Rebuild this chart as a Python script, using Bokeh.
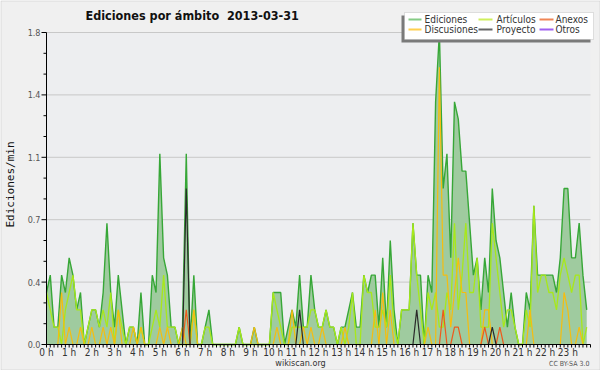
import math
from bokeh.plotting import figure
from bokeh.models import Label, BoxAnnotation, Range1d
from bokeh.embed import file_html
from bokeh.resources import INLINE
from bokeh.core.properties import value

# ---- data (edits per minute, 10-minute buckets, 2013-03-31) ----
ediciones = [0.3, 0.4, 0.1, 0.1, 0.4, 0.3, 0.5, 0.4, 0.2, 0.3, 0.0, 0.1,
             0.2, 0.2, 0.1, 0.3, 0.7, 0.3, 0.1, 0.4, 0.2, 0.0, 0.1, 0.1,
             0.0, 0.3, 0.0, 0.0, 0.4, 0.3, 1.1, 0.5, 0.4, 0.1, 0.1, 0.0,
             0.1, 1.1, 0.0, 0.4, 0.0, 0.0, 0.1, 0.2, 0.0, 0.0, 0.0, 0.0,
             0.0, 0.0, 0.0, 0.1, 0.0, 0.0, 0.0, 0.1, 0.0, 0.0, 0.0, 0.0,
             0.3, 0.3, 0.3, 0.0, 0.1, 0.2, 0.1, 0.4, 0.1, 0.1, 0.4, 0.2,
             0.1, 0.1, 0.2, 0.1, 0.1, 0.0, 0.1, 0.1, 0.2, 0.3, 0.1, 0.1,
             0.4, 0.3, 0.4, 0.4, 0.1, 0.5, 0.1, 0.6, 0.2, 0.0, 0.2, 0.2,
             0.2, 0.7, 0.4, 0.4, 0.0, 0.4, 0.3, 1.4, 1.8, 0.9, 1.1, 0.5,
             1.4, 1.3, 1.0, 1.0, 0.7, 0.4, 0.5, 0.2, 0.5, 0.3, 0.9, 0.6,
             0.5, 0.3, 0.1, 0.3, 0.1, 0.0, 0.0, 0.3, 0.2, 0.8, 0.4, 0.4,
             0.4, 0.4, 0.4, 0.3, 0.5, 0.9, 0.9, 0.5, 0.5, 0.7, 0.4, 0.2]

articulos = [0.3, 0.2, 0.1, 0.1, 0.0, 0.2, 0.3, 0.4, 0.2, 0.2, 0.0, 0.1,
             0.2, 0.2, 0.1, 0.2, 0.1, 0.3, 0.0, 0.2, 0.1, 0.0, 0.1, 0.1,
             0.0, 0.1, 0.0, 0.0, 0.1, 0.2, 0.1, 0.4, 0.1, 0.1, 0.1, 0.0,
             0.0, 0.0, 0.0, 0.2, 0.0, 0.0, 0.1, 0.1, 0.0, 0.0, 0.0, 0.0,
             0.0, 0.0, 0.0, 0.1, 0.0, 0.0, 0.0, 0.0, 0.0, 0.0, 0.0, 0.0,
             0.3, 0.2, 0.1, 0.0, 0.0, 0.1, 0.1, 0.1, 0.1, 0.1, 0.2, 0.2,
             0.1, 0.1, 0.2, 0.1, 0.1, 0.0, 0.1, 0.0, 0.1, 0.3, 0.0, 0.0,
             0.4, 0.3, 0.3, 0.1, 0.1, 0.2, 0.1, 0.4, 0.1, 0.0, 0.2, 0.2,
             0.2, 0.7, 0.4, 0.2, 0.0, 0.3, 0.2, 0.3, 0.1, 0.1, 0.3, 0.2,
             0.7, 0.2, 0.4, 0.7, 0.3, 0.3, 0.5, 0.1, 0.1, 0.1, 0.7, 0.5,
             0.3, 0.1, 0.2, 0.2, 0.1, 0.0, 0.0, 0.2, 0.1, 0.8, 0.3, 0.4,
             0.4, 0.3, 0.3, 0.2, 0.4, 0.5, 0.4, 0.3, 0.4, 0.4, 0.0, 0.1]

discusiones = [0.0, 0.0, 0.0, 0.0, 0.3, 0.0, 0.1, 0.0, 0.0, 0.1, 0.0, 0.0,
               0.1, 0.0, 0.0, 0.1, 0.0, 0.1, 0.0, 0.2, 0.0, 0.0, 0.0, 0.1,
               0.0, 0.1, 0.0, 0.0, 0.0, 0.0, 0.1, 0.0, 0.1, 0.0, 0.0, 0.0,
               0.1, 0.0, 0.0, 0.2, 0.0, 0.0, 0.0, 0.0, 0.0, 0.0, 0.0, 0.0,
               0.0, 0.0, 0.0, 0.0, 0.0, 0.0, 0.0, 0.1, 0.0, 0.0, 0.0, 0.0,
               0.0, 0.1, 0.0, 0.0, 0.0, 0.2, 0.0, 0.0, 0.1, 0.0, 0.1, 0.0,
               0.0, 0.1, 0.0, 0.0, 0.0, 0.0, 0.0, 0.1, 0.0, 0.0, 0.0, 0.0,
               0.0, 0.0, 0.0, 0.2, 0.0, 0.3, 0.0, 0.2, 0.0, 0.0, 0.0, 0.0,
               0.0, 0.0, 0.0, 0.0, 0.0, 0.1, 0.0, 0.0, 1.6, 0.4, 0.4, 0.1,
               0.3, 0.5, 0.3, 0.3, 0.0, 0.0, 0.0, 0.0, 0.2, 0.2, 0.0, 0.0,
               0.0, 0.0, 0.0, 0.0, 0.0, 0.0, 0.0, 0.0, 0.2, 0.0, 0.0, 0.0,
               0.0, 0.0, 0.0, 0.0, 0.0, 0.3, 0.2, 0.0, 0.0, 0.1, 0.0, 0.0]

anexos = [0.0] * 144
for i, v in [(37, 0.2), (105, 0.2), (108, 0.1), (109, 0.1), (116, 0.1), (120, 0.1)]:
    anexos[i] = v

proyecto = [0.0] * 144
for i, v in [(37, 0.9), (67, 0.2), (98, 0.2), (118, 0.1)]:
    proyecto[i] = v

otros = [0.0] * 144

# time of each 10-minute bucket, in hours
bucket_hours = [i * 10 / 60 for i in range(144)]

hour_ticks = list(range(24))
hour_labels = [f"{h} h" for h in hour_ticks]
minor_hour_ticks = [i / 6 for i in range(145)]

y_ticks = [0.0, 0.36, 0.72, 1.08, 1.44, 1.8]
y_labels = ["0.0", "0.4", "0.7", "1.1", "1.4", "1.8"]
y_minor = [i * 0.12 for i in range(16) if i % 3]

legend_names = ["Ediciones", "Artículos", "Anexos", "Discusiones", "Proyecto", "Otros"]
legend_colors = ["#86cc86", "#cfef5c", "#f08656", "#ffd04e", "#666666", "#a060f0"]

CFONT = "DejaVu Sans Condensed"
MFONT = "DejaVu Sans Mono"

# ---- geometry: the frame is the whole canvas; data area placed inside ----
W, H = 600, 370
X0_PX, X24_PX = 46, 590      # canvas columns of 0 h and 24 h
Y0_PX, Y18_PX = 344, 32      # canvas rows of y=0 and y=1.8
ppx = (X24_PX - X0_PX) / 24.0
ppu = (Y0_PX - Y18_PX) / 1.8

p = figure(width=W, height=H, output_backend="svg", toolbar_location=None,
           x_range=Range1d(-X0_PX / ppx, (W - X0_PX) / ppx),
           y_range=Range1d(-(H - Y0_PX) / ppu, 1.8 + Y18_PX / ppu),
           min_border=0, background_fill_color="#f0f0f0", border_fill_color="#f0f0f0",
           outline_line_color=None, x_axis_location=None, y_axis_location=None)
p.xgrid.visible = False
p.ygrid.visible = False

# plotting area background
p.add_layout(BoxAnnotation(left=0, right=24, bottom=0, top=1.8,
                           fill_color="#edeef0", fill_alpha=1, line_color=None,
                           level="underlay"))
# grid lines
p.segment(x0=[0] * 5, y0=y_ticks[1:], x1=[24] * 5, y1=y_ticks[1:],
          line_color="#c8c8c8", line_width=1)

# data
p.varea(x=bucket_hours, y1=0, y2=ediciones, fill_color="#9fcb9f")
p.line(bucket_hours, ediciones, line_color="#37a737", line_width=1.4)
p.line(bucket_hours, articulos, line_color="#a8e81a", line_width=1.3)
p.line(bucket_hours, discusiones, line_color="#f5bd10", line_width=1.2)
p.line(bucket_hours, anexos, line_color="#ee5a1c", line_width=1.2)
p.line(bucket_hours, proyecto, line_color="#2a2a2a", line_width=1.2)

# x axis: line, ticks, hour labels
p.segment(x0=[0], y0=[0], x1=[24], y1=[0], line_color="black", line_width=1)
p.segment(x0=minor_hour_ticks, y0=[0] * len(minor_hour_ticks),
          x1=minor_hour_ticks, y1=[-3 / ppu] * len(minor_hour_ticks),
          line_color="black", line_width=1)
p.text(x=hour_ticks, y=[0] * len(hour_ticks), text=hour_labels, y_offset=2,
       text_align="center", text_baseline="top", text_font=value(CFONT),
       text_font_size="10px", text_color="#333333")

# y axis: line, ticks, labels
p.segment(x0=[0], y0=[0], x1=[0], y1=[1.8], line_color="black", line_width=1)
p.segment(x0=[0] * len(y_ticks), y0=y_ticks, x1=[-5 / ppx] * len(y_ticks), y1=y_ticks,
          line_color="black", line_width=1)
p.segment(x0=[0] * len(y_minor), y0=y_minor, x1=[-3 / ppx] * len(y_minor), y1=y_minor,
          line_color="black", line_width=1)
p.text(x=[0] * len(y_ticks), y=y_ticks, text=y_labels, x_offset=-6,
       text_align="right", text_baseline="middle", text_font=value(CFONT),
       text_font_size="9px", text_color="#555555")


def lab(x, y, text, **kw):
    p.add_layout(Label(x=x, y=y, x_units="screen", y_units="screen", text=text, **kw))


def box(l, r, b, t, **kw):
    p.add_layout(BoxAnnotation(left=l, right=r, bottom=b, top=t,
                               left_units="screen", right_units="screen",
                               bottom_units="screen", top_units="screen", **kw))


# outer border
box(0.5, W - 0.5, 0.5, H - 0.5, fill_alpha=0, line_color="#a8a8a8", line_width=1)

# y axis title
lab(10, H - 184, "Ediciones/min", text_font=MFONT, text_font_size="11px",
    angle=math.pi / 2, text_align="center", text_baseline="middle", text_color="#111111")

# title
lab(85, H - 15, "Ediciones por ámbito\u00a0 2013-03-31", text_font=CFONT,
    text_font_style="bold", text_font_size="12.5px", text_baseline="middle",
    text_color="#111111")

# footer
lab(300, H - 362, "wikiscan.org", text_font=CFONT, text_font_size="9px",
    text_align="center", text_baseline="middle", text_color="#333333")
lab(589, H - 363, "CC BY-SA 3.0", text_font=CFONT, text_font_size="7px",
    text_align="right", text_baseline="middle", text_color="#555555")

# legend (shadow, box, samples, labels)
box(401, 590, H - 42, H - 15, fill_color="#7a7a7a", fill_alpha=1, line_color=None)
box(404, 593, H - 39, H - 12, fill_color="white", fill_alpha=1, line_color="#a0a0a0")
col_x = [(408, 421, 424), (478, 492, 496), (539, 553, 555)]
row_y = [H - 19, H - 29]
for k, (name, col) in enumerate(zip(legend_names, legend_colors)):
    r, c = divmod(k, 3)
    x0, x1, xt = col_x[c]
    yy = row_y[r]
    box(x0, x1, yy - 1, yy + 1, fill_color=col, fill_alpha=1, line_color=None)
    lab(xt, yy, name, text_font=CFONT, text_font_size="10px",
        text_baseline="middle", text_color="#333333")

open("out.html", "w").write(file_html(p, INLINE))
